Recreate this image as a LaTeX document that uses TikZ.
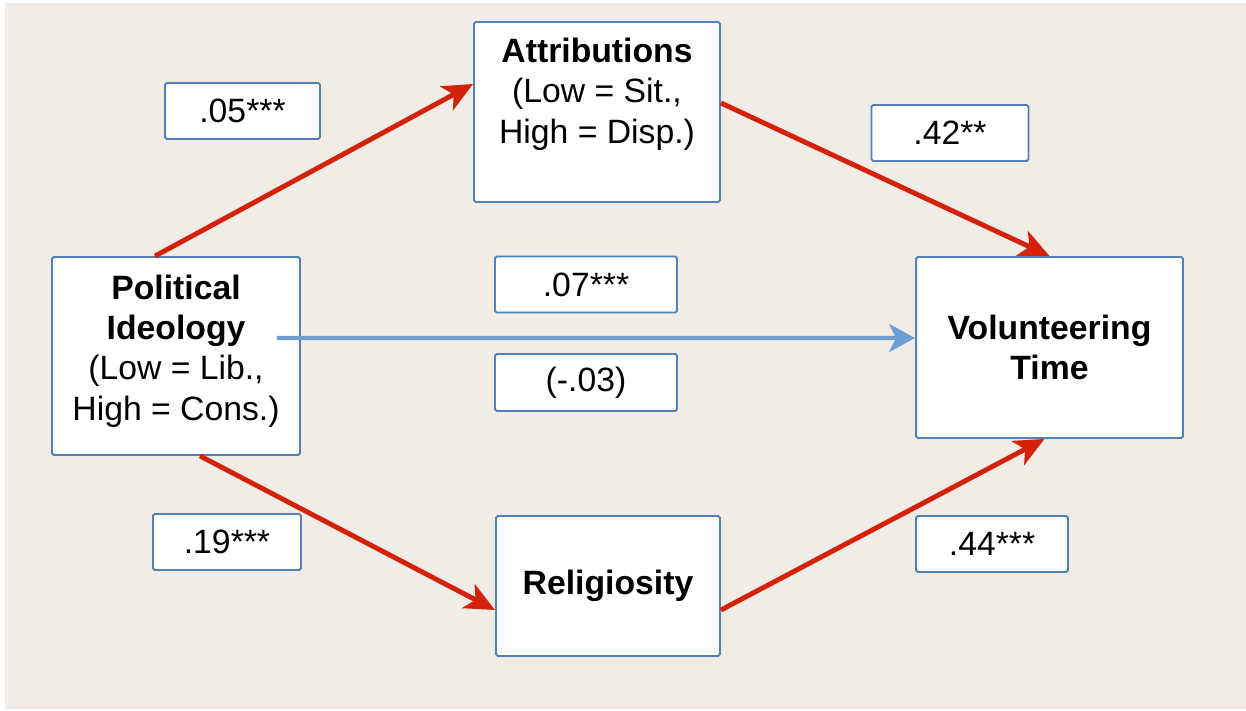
\documentclass[tikz,border=0pt]{standalone}
\usepackage{fontspec}
\setmainfont{Liberation Sans}
\usetikzlibrary{arrows.meta}
\definecolor{bgbeige}{RGB}{241,237,230}
\definecolor{boxblue}{RGB}{84,128,182}
\definecolor{pathred}{RGB}{212,34,10}
\definecolor{pathblue}{RGB}{108,158,212}

\begin{document}
\begin{tikzpicture}[x=0.02cm, y=-0.02cm,
    varbox/.style={draw=boxblue, line width=1.1pt, fill=white, rounded corners=1pt, inner sep=0pt,
      align=center, font=\fontsize{19.2}{23}\selectfont},
    coef/.style={varbox, minimum height=1.12cm},
    boxtext/.style={align=center, font=\fontsize{19.2}{23}\selectfont},
    redpath/.style={draw=pathred, line width=2.8pt, -{Stealth[length=0.6cm, width=0.54cm, inset=0.16cm]}},
    bluepath/.style={draw=pathblue, line width=2.5pt, -{Stealth[length=0.52cm, width=0.56cm, inset=0.14cm]}}]
    \useasboundingbox (0,0) rectangle (1246,710);
    \fill[bgbeige] (5,3) rectangle (1246,709);

    % Variables
    \node[varbox, minimum width=4.96cm, minimum height=3.96cm] (pol) at (176,356) {};
    \node[boxtext] (poltext) at ([yshift=0.1cm]pol.center)
      {\textbf{Political}\\\textbf{Ideology}\\(Low = Lib.,\\High = Cons.)};
    \node[varbox, minimum width=4.92cm, minimum height=3.6cm] (attr) at (597,112) {};
    \node[boxtext] (attrtext) at ([yshift=0.36cm]attr.center)
      {\textbf{Attributions}\\(Low = Sit.,\\High = Disp.)};
    \node[varbox, minimum width=5.34cm, minimum height=3.62cm] (vol) at (1049.5,347.5)
      {\textbf{Volunteering}\\\textbf{Time}};
    \node[varbox, minimum width=4.48cm, minimum height=2.8cm] (rel) at (608,586)
      {\textbf{Religiosity}};

    % Coefficients
    \node[coef, minimum width=3.1cm] (c05) at (242.5,111) {.05***};
    \node[coef, minimum width=3.14cm] (c42) at (950,133) {.42**};
    \node[coef, minimum width=3.64cm] (c07) at (586,284.5) {.07***};
    \node[coef, minimum width=3.64cm, minimum height=1.14cm] (c03) at (586,382.5) {(-.03)};
    \node[coef, minimum width=2.96cm] (c19) at (227,542) {.19***};
    \node[coef, minimum width=3.04cm] (c44) at (992,544) {.44***};

    % Paths
    \draw[redpath] ([xshift=-0.42cm]pol.north) -- ([yshift=0.56cm]attr.west);
    \draw[redpath] ([yshift=0.18cm]attr.east) -- (vol.north);
    \draw[redpath] ([xshift=0.48cm]pol.south) -- ([yshift=-0.48cm]rel.west);
    \draw[redpath] ([yshift=-0.48cm]rel.east) -- ([xshift=-0.1cm]vol.south);

    % Direct path
    \coordinate (polstart) at ([xshift=2.02cm, yshift=0.36cm]pol.center);
    \draw[bluepath] (polstart) -- ([yshift=0.19cm]vol.west);
\end{tikzpicture}
\end{document}
